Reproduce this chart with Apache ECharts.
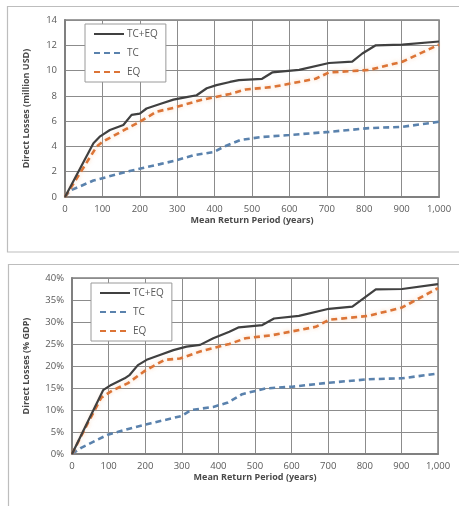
<!DOCTYPE html>
<html><head><meta charset="utf-8">
<script src="https://cdn.jsdelivr.net/npm/echarts@6/dist/echarts.min.js"></script>
<style>html,body{margin:0;padding:0;background:#fff}#c{width:459px;height:506px}</style>
</head><body><div id="c"></div>
<script>
// Return periods (years) and losses
const seriesNames = ['TC+EQ', 'TC', 'EQ'];
const xTicks = [0,100,200,300,400,500,600,700,800,900,1000];

// Top chart: million USD
const rpTopAll  = [0,76,94,120,156,178,200,218,254,290,325,352,379,405,441,465,527,554,626,706,768,795,831,902,1000];
const lossTopAll= [0,4.25,4.8,5.3,5.7,6.5,6.6,7.0,7.35,7.7,7.9,8.05,8.6,8.85,9.1,9.25,9.35,9.85,10.05,10.6,10.7,11.35,12.0,12.05,12.3];
const rpTopTC   = [0,13,76,165,254,298,343,397,423,468,527,599,706,813,902,1000];
const lossTopTC = [0,0.5,1.3,2.0,2.6,2.9,3.3,3.55,3.95,4.5,4.75,4.9,5.15,5.45,5.55,5.95];
const rpTopEQ   = [0,85,102,165,200,245,290,361,441,483,554,670,706,813,902,1000];
const lossTopEQ = [0,4.0,4.4,5.4,5.95,6.75,7.05,7.65,8.15,8.5,8.7,9.35,9.85,10.05,10.7,12.05];

// Bottom chart: % GDP
const rpBotAll  = [0,85,107,144,158,180,204,240,277,313,350,386,430,456,520,552,620,702,766,830,902,1000];
const lossBotAll= [0,14.5,15.7,17.2,18.0,20.2,21.4,22.5,23.6,24.4,24.8,26.3,27.8,28.8,29.3,30.8,31.4,33.0,33.5,37.4,37.5,38.6];
const rpBotTC   = [0,25,98,167,216,298,326,386,426,465,529,602,702,811,902,1000];
const lossBotTC = [0,1.4,4.4,6.0,7.0,8.6,10.0,10.7,11.7,13.6,14.9,15.3,16.2,17.0,17.2,18.3];
const rpBotEQ   = [0,40,80,112,153,199,253,295,350,430,474,547,666,702,811,902,1000];
const lossBotEQ = [0,6.5,12.8,14.5,16.1,18.9,21.4,21.7,23.3,25.0,26.3,27.0,28.9,30.5,31.4,33.3,37.7];

const zip = (xs, ys) => xs.map((x, i) => [x, ys[i]]);
const txt = '#595959';
const font = 'Open Sans';

const styles = {
  'TC+EQ': {color:'#404040', lineStyle:{color:'#404040', width:2.2, type:'solid'}},
  'TC':    {color:'#5a82ad', lineStyle:{color:'#5a82ad', width:2.6, type:[6,4]}},
  'EQ':    {color:'#dc7436', lineStyle:{color:'#dc7436', width:2.6, type:[6,4], shadowColor:'rgba(245,180,130,0.6)', shadowBlur:4}}
};

function mkSeries(name, data, idx) {
  return Object.assign({
    name, type:'line', data, xAxisIndex:idx, yAxisIndex:idx,
    symbol:'none', animation:false, z: name==='TC+EQ'?5:3
  }, JSON.parse(JSON.stringify(styles[name])));
}

function xAxis(idx) {
  return {
    type:'value', gridIndex:idx, min:0, max:1000, interval:100,
    name:'Mean Return Period (years)', nameLocation:'middle', nameGap: 19,
    nameTextStyle:{color:'#4a4a4a', fontSize:9, fontWeight:'bold', fontFamily:font},
    axisLine:{show:true, lineStyle:{color:'#808080', width:2}},
    axisTick:{show:false},
    axisLabel:{color:txt, fontSize:9.5, fontFamily:font, margin:7,
      formatter:v => v >= 1000 ? (v/1000)+','+String(v%1000).padStart(3,'0') : String(v)},
    splitLine:{show:true, lineStyle:{color:'#8c8c8c', width:1}}
  };
}
function yAxis(idx, max, interval, name, pct, gap) {
  return {
    type:'value', gridIndex:idx, min:0, max, interval,
    name, nameLocation:'middle', nameGap:gap,
    nameTextStyle:{color:'#4a4a4a', fontSize:9, fontWeight:'bold', fontFamily:font},
    axisLine:{show:true, lineStyle:{color:'#808080', width:2}},
    axisTick:{show:false},
    axisLabel:{color:txt, fontSize:9.5, fontFamily:font, margin:8,
      formatter: v => pct ? v+'%' : String(v)},
    splitLine:{show:true, lineStyle:{color:'#8c8c8c', width:1}}
  };
}
function legend(left, top) {
  return {
    data: seriesNames, orient:'vertical', left, top,
    itemWidth:30, itemHeight:12, itemGap:9,
    itemStyle:{opacity:0},
    borderColor:'#9a9a9a', borderWidth:1, backgroundColor:'#fff',
    padding:[5,8,5,8], borderRadius:0,
    textStyle:{color:txt, fontSize:10, fontFamily:font, padding:[0,0,0,-2]}
  };
}

const chart = echarts.init(document.getElementById('c'), null, {renderer:'canvas'});
chart.setOption({
  backgroundColor:'#fff',
  animation:false,
  graphic:[
    {type:'rect', shape:{x:7.5, y:6.5, width:470, height:245.5}, style:{fill:'none', stroke:'#bdbdbd', lineWidth:1.2}, silent:true, z:-10},
    {type:'rect', shape:{x:8.5, y:264.5, width:470, height:260}, style:{fill:'none', stroke:'#bdbdbd', lineWidth:1.2}, silent:true, z:-10}
  ],
  legend:[legend(85, 24), legend(91, 283)],
  grid:[
    {left:65, top:20, width:374, height:177, show:true, borderColor:'#808080', borderWidth:1.5, backgroundColor:'transparent', containLabel:false},
    {left:72, top:278, width:366, height:176, show:true, borderColor:'#808080', borderWidth:1.5, backgroundColor:'transparent', containLabel:false}
  ],
  xAxis:[xAxis(0), xAxis(1)],
  yAxis:[
    yAxis(0, 14, 2, 'Direct Losses (million USD)', false, 34),
    yAxis(1, 40, 5, 'Direct Losses (% GDP)', true, 41)
  ],
  series:[
    mkSeries('TC+EQ', zip(rpTopAll, lossTopAll), 0),
    mkSeries('TC', zip(rpTopTC, lossTopTC), 0),
    mkSeries('EQ', zip(rpTopEQ, lossTopEQ), 0),
    mkSeries('TC+EQ', zip(rpBotAll, lossBotAll), 1),
    mkSeries('TC', zip(rpBotTC, lossBotTC), 1),
    mkSeries('EQ', zip(rpBotEQ, lossBotEQ), 1)
  ]
});
</script></body></html>
